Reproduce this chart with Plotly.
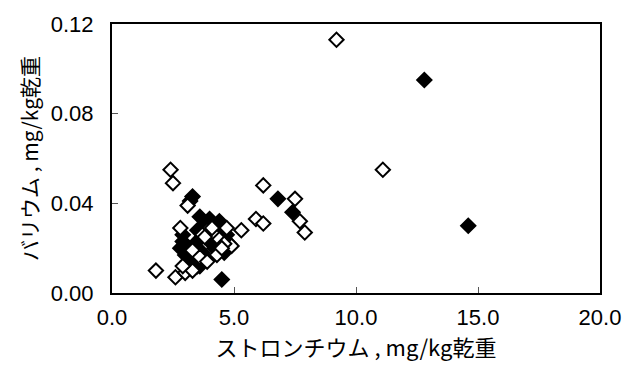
import plotly.graph_objects as go

# open diamonds (series A)
open_x = [9.2, 11.1, 2.4, 2.5, 6.2, 7.5, 5.9, 6.2, 7.7, 7.9, 1.8, 2.6, 3.0, 2.8, 3.1, 5.3, 4.7, 4.9,
          3.9, 4.2, 4.4, 4.6, 3.7, 3.3, 3.6, 3.9, 3.3, 4.3, 2.9, 3.8, 4.1, 4.5]
open_y = [0.113, 0.055, 0.055, 0.049, 0.048, 0.042, 0.033, 0.031, 0.032, 0.027, 0.010, 0.007, 0.009, 0.029, 0.039, 0.028, 0.029, 0.021,
          0.028, 0.026, 0.024, 0.022, 0.026, 0.019, 0.016, 0.014, 0.010, 0.017, 0.012, 0.025, 0.029, 0.020]

# filled diamonds (series B)
fill_x = [12.8, 14.6, 6.8, 7.4, 3.3, 3.2, 4.5, 3.6, 4.0, 4.4, 3.8, 2.9, 2.8, 3.0, 3.1, 3.5, 3.9, 4.2, 4.6,
          4.8, 4.5, 4.1, 3.4, 3.0, 3.7, 2.9, 3.1, 3.3, 3.9, 4.3, 4.7, 3.5, 3.6]
fill_y = [0.095, 0.030, 0.042, 0.036, 0.043, 0.041, 0.006, 0.034, 0.033, 0.032, 0.030, 0.023, 0.020, 0.017, 0.014, 0.012, 0.015, 0.020, 0.018,
          0.022, 0.025, 0.027, 0.022, 0.011, 0.018, 0.026, 0.019, 0.016, 0.024, 0.028, 0.026, 0.028, 0.012]

x_ticks = [0, 5, 10, 15, 20]
x_labels = ["0.0", "5.0", "10.0", "15.0", "20.0"]
y_ticks = [0, 0.04, 0.08, 0.12]
y_labels = ["0.00", "0.04", "0.08", "0.12"]

fig = go.Figure()
fig.add_trace(go.Scatter(x=fill_x, y=fill_y, mode="markers",
                         marker=dict(symbol="diamond", size=11, color="black",
                                     line=dict(color="black", width=2))))
fig.add_trace(go.Scatter(x=open_x, y=open_y, mode="markers",
                         marker=dict(symbol="diamond", size=11, color="white",
                                     line=dict(color="black", width=2))))

font_cjk = "Noto Sans CJK JP"
fig.update_layout(
    width=633, height=374,
    margin=dict(l=112, r=30, t=16, b=81),
    paper_bgcolor="white", plot_bgcolor="white",
    showlegend=False,
    font=dict(family=font_cjk, color="black", size=22),
    xaxis=dict(range=[0, 20], tickvals=x_ticks, ticktext=x_labels,
               ticks="inside", ticklen=6, tickwidth=1, tickcolor="#555",
               showline=True, linecolor="black", linewidth=2, mirror=True,
               showgrid=False, zeroline=False,
               tickfont=dict(family="Liberation Sans", size=22),
               ticklabelstandoff=4,
               title=dict(text="ストロンチウム , mg/kg乾重", font=dict(size=22), standoff=5)),
    yaxis=dict(range=[0, 0.12], tickvals=y_ticks, ticktext=y_labels,
               ticks="inside", ticklen=6, tickwidth=1, tickcolor="#555",
               showline=True, linecolor="black", linewidth=2, mirror=True,
               showgrid=False, zeroline=False,
               tickfont=dict(family="Liberation Sans", size=22),
               ticklabelstandoff=12,
               title=dict(text="バリウム , mg/kg乾重", font=dict(size=21), standoff=6)),
)

fig.write_html("out.html")
